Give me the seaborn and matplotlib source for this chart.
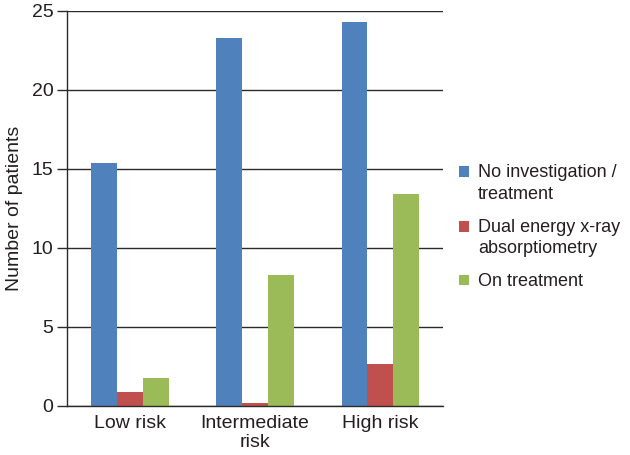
import pandas as pd
import matplotlib.pyplot as plt
import seaborn as sns

# Data
risk_groups = ['Low risk', 'Intermediate\nrisk', 'High risk']
series_names = ['No investigation /\ntreatment', 'Dual energy x-ray\nabsorptiometry', 'On treatment']
no_investigation = [15.4, 23.3, 24.3]
dexa = [0.85, 0.2, 2.65]
on_treatment = [1.75, 8.3, 13.4]
colors = ['#4F81BD', '#C0504D', '#9BBB59']

rows = []
for name, vals in zip(series_names, [no_investigation, dexa, on_treatment]):
    for grp, v in zip(risk_groups, vals):
        rows.append({'risk': grp, 'series': name, 'patients': v})
df = pd.DataFrame(rows)

sns.set_style('white')
plt.rcParams['font.family'] = ['Liberation Sans', 'DejaVu Sans']
text_color = '#231F20'
fs = 14

fig = plt.figure(figsize=(6.3, 4.55), dpi=100)
ax = fig.add_axes([0.107, 0.108, 0.596, 0.868])

sns.barplot(data=df, x='risk', y='patients', hue='series', palette=colors,
            saturation=1, width=0.62, linewidth=0, ax=ax, errorbar=None)

ax.set_ylim(0, 25)
ax.set_yticks([0, 5, 10, 15, 20, 25])
ax.set_xlim(-0.5, 2.5)
ax.yaxis.grid(True, color='#2a2a2a', linewidth=1)
ax.set_axisbelow(True)
for side in ['top', 'right']:
    ax.spines[side].set_visible(False)
for side in ['left', 'bottom']:
    ax.spines[side].set_color('#2a2a2a')
    ax.spines[side].set_linewidth(1)

ax.tick_params(axis='y', left=True, length=7, width=1, color='#2a2a2a',
               labelsize=fs, labelcolor=text_color, pad=3)
ax.tick_params(axis='x', bottom=False, labelsize=fs, labelcolor=text_color, pad=3)
for lab in ax.get_xticklabels():
    lab.set_linespacing(1.15)
ax.set_xlabel('')
ax.set_ylabel('Number of patients', fontsize=fs, color=text_color, labelpad=6)

# legend outside, markers next to the first line of each label
handles, labels = ax.get_legend_handles_labels()
leg = ax.legend(handles, labels, loc='center left', bbox_to_anchor=(1.0, 0.452),
                frameon=False, fontsize=13, handlelength=0.55, handleheight=0.55,
                handletextpad=0.5, labelspacing=0.9, labelcolor=text_color)
for t in leg.get_texts():
    t.set_linespacing(1.33)
for h, lab in zip(leg.legend_handles, labels):
    if '\n' in lab:
        h.set_y(h.get_y() + 8.5)

plt.savefig('out.png', dpi=100)
